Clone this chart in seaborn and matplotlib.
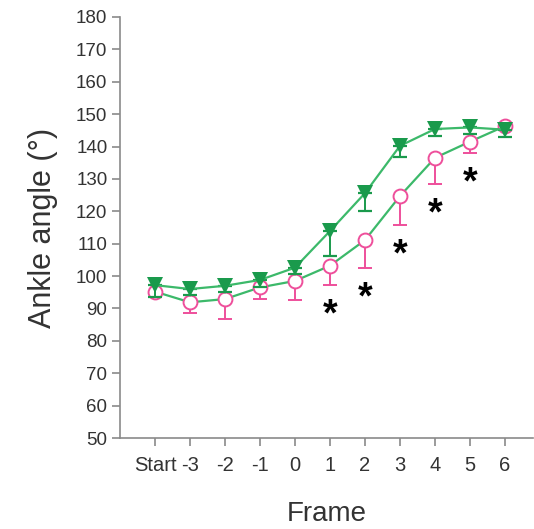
"""Ankle angle across frames, two groups, lower error bars and significance stars."""

import matplotlib
matplotlib.use("Agg")
import matplotlib.pyplot as plt
import numpy as np
import pandas as pd
import seaborn as sns

frames = ["Start", "-3", "-2", "-1", "0", "1", "2", "3", "4", "5", "6"]
green_mean = [97.2, 96.0, 97.0, 98.8, 102.6, 113.9, 125.6, 140.2, 145.4, 145.9, 145.2]
green_low = [93.6, 94.1, 95.0, 96.5, 100.5, 106.2, 120.1, 136.7, 143.2, 144.0, 143.0]
pink_mean = [95.2, 91.9, 92.9, 96.5, 98.5, 103.2, 111.1, 124.7, 136.5, 141.5, 146.3]
pink_low = [93.5, 88.5, 86.6, 92.9, 92.6, 97.2, 102.4, 115.8, 128.3, 138.1, 145.0]
significant = [False, False, False, False, False, True, True, True, True, True, False]

GREEN_LINE = "#3cb96a"
GREEN_MARK = "#1a9a4c"
PINK = "#ee4f9b"
AXIS_GRAY = "#8a8a8a"


def main() -> None:
    sns.set_theme(style="ticks")
    plt.rcParams["font.family"] = ["Liberation Sans", "DejaVu Sans"]

    pos = np.arange(len(frames))
    df = pd.DataFrame({
        "pos": pos,
        "green": green_mean,
        "pink": pink_mean,
    })

    fig = plt.figure(figsize=(5.34, 5.29), dpi=100)
    ax = fig.add_axes([0.2247, 0.172, 0.7733, 0.7959])

    # pink group (open circles, lower error bars only)
    pink_err = [np.array(pink_mean) - np.array(pink_low), np.zeros(len(frames))]
    ax.errorbar(pos, pink_mean, yerr=pink_err, fmt="none", ecolor=PINK,
                elinewidth=1.4, capsize=5, capthick=1.4, zorder=2)
    sns.lineplot(data=df, x="pos", y="pink", ax=ax, color=GREEN_LINE, linewidth=1.6,
                 marker="o", markersize=10, markerfacecolor="white",
                 markeredgecolor=PINK, markeredgewidth=1.4, zorder=3)

    # green group (filled down triangles)
    green_err = [np.array(green_mean) - np.array(green_low), np.zeros(len(frames))]
    ax.errorbar(pos, green_mean, yerr=green_err, fmt="none", ecolor=GREEN_MARK,
                elinewidth=1.4, capsize=5, capthick=1.6, zorder=4)
    sns.lineplot(data=df, x="pos", y="green", ax=ax, color=GREEN_LINE, linewidth=1.6,
                 marker="v", markersize=12, markerfacecolor=GREEN_MARK,
                 markeredgecolor=GREEN_MARK, markeredgewidth=0, zorder=5)

    for p, low, sig in zip(pos, pink_low, significant):
        if sig:
            ax.annotate("*", xy=(p, low), xytext=(0, -9), textcoords="offset points",
                        ha="center", va="top", fontsize=27, fontweight="bold",
                        color="black")

    ax.set_xlim(-1, 10.8)
    ax.set_ylim(50, 180)
    ax.set_yticks(np.arange(50, 181, 10))
    ax.set_xticks(pos)
    ax.set_xticklabels(frames)

    sns.despine(ax=ax)
    for side in ("left", "bottom"):
        ax.spines[side].set_color(AXIS_GRAY)
        ax.spines[side].set_linewidth(1.2)
    ax.tick_params(axis="both", direction="out", color=AXIS_GRAY, width=1.2,
                   length=6, labelcolor="#333333")
    ax.tick_params(axis="y", labelsize=13.5, pad=3)
    ax.tick_params(axis="x", labelsize=14.5, pad=7)

    ax.set_xlabel("Frame", fontsize=20, color="#333333", labelpad=19)
    ax.set_ylabel("Ankle angle (°)", fontsize=22, color="#333333", labelpad=13)

    fig.savefig("out.png", dpi=100)
    plt.close(fig)


if __name__ == "__main__":
    main()
